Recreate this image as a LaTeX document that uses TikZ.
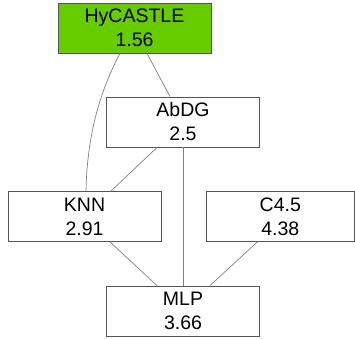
\documentclass[tikz,border=0pt]{standalone}
\usepackage{fontspec}
\setmainfont{Liberation Sans}
\usetikzlibrary{calc}
\definecolor{boxgreen}{HTML}{66CC00}
\definecolor{boxline}{HTML}{555555}
\definecolor{edgegray}{HTML}{808080}
\tikzset{
  algbox/.style={draw=boxline, line width=0.9pt, fill=white, minimum width=153pt, minimum height=50pt,
    inner sep=0pt, align=center, font=\fontsize{19.5}{24}\selectfont},
  link/.style={draw=edgegray, line width=0.7pt}
}
\begin{document}
\begin{tikzpicture}[x=1pt,y=-1pt]
\useasboundingbox (0,0) rectangle (355,338);
\node[algbox, fill=boxgreen] (hy) at (134.5,28) {HyCASTLE\\1.56};
\node[algbox] (abdg) at (183,122) {AbDG\\2.5};
\node[algbox] (knn) at (84.5,216.5) {KNN\\2.91};
\node[algbox, minimum width=148pt] (c45) at (280.3,216.5) {C4.5\\4.38};
\node[algbox] (mlp) at (183,311) {MLP\\3.66};
\draw[link] ([xshift=12.5pt]hy.south) -- ([xshift=-13pt]abdg.north);
\draw[link] ([xshift=-14.5pt]hy.south) .. controls (103,85) and (87,130) .. ([xshift=1.5pt]knn.north);
\draw[link] ([xshift=-26pt]abdg.south) -- ([xshift=26.5pt]knn.north);
\draw[link] (abdg.south) -- (mlp.north);
\draw[link] ([xshift=25.5pt]knn.south) -- ([xshift=-26pt]mlp.north);
\draw[link] ([xshift=-23pt]c45.south) -- ([xshift=27pt]mlp.north);
\end{tikzpicture}
\end{document}
